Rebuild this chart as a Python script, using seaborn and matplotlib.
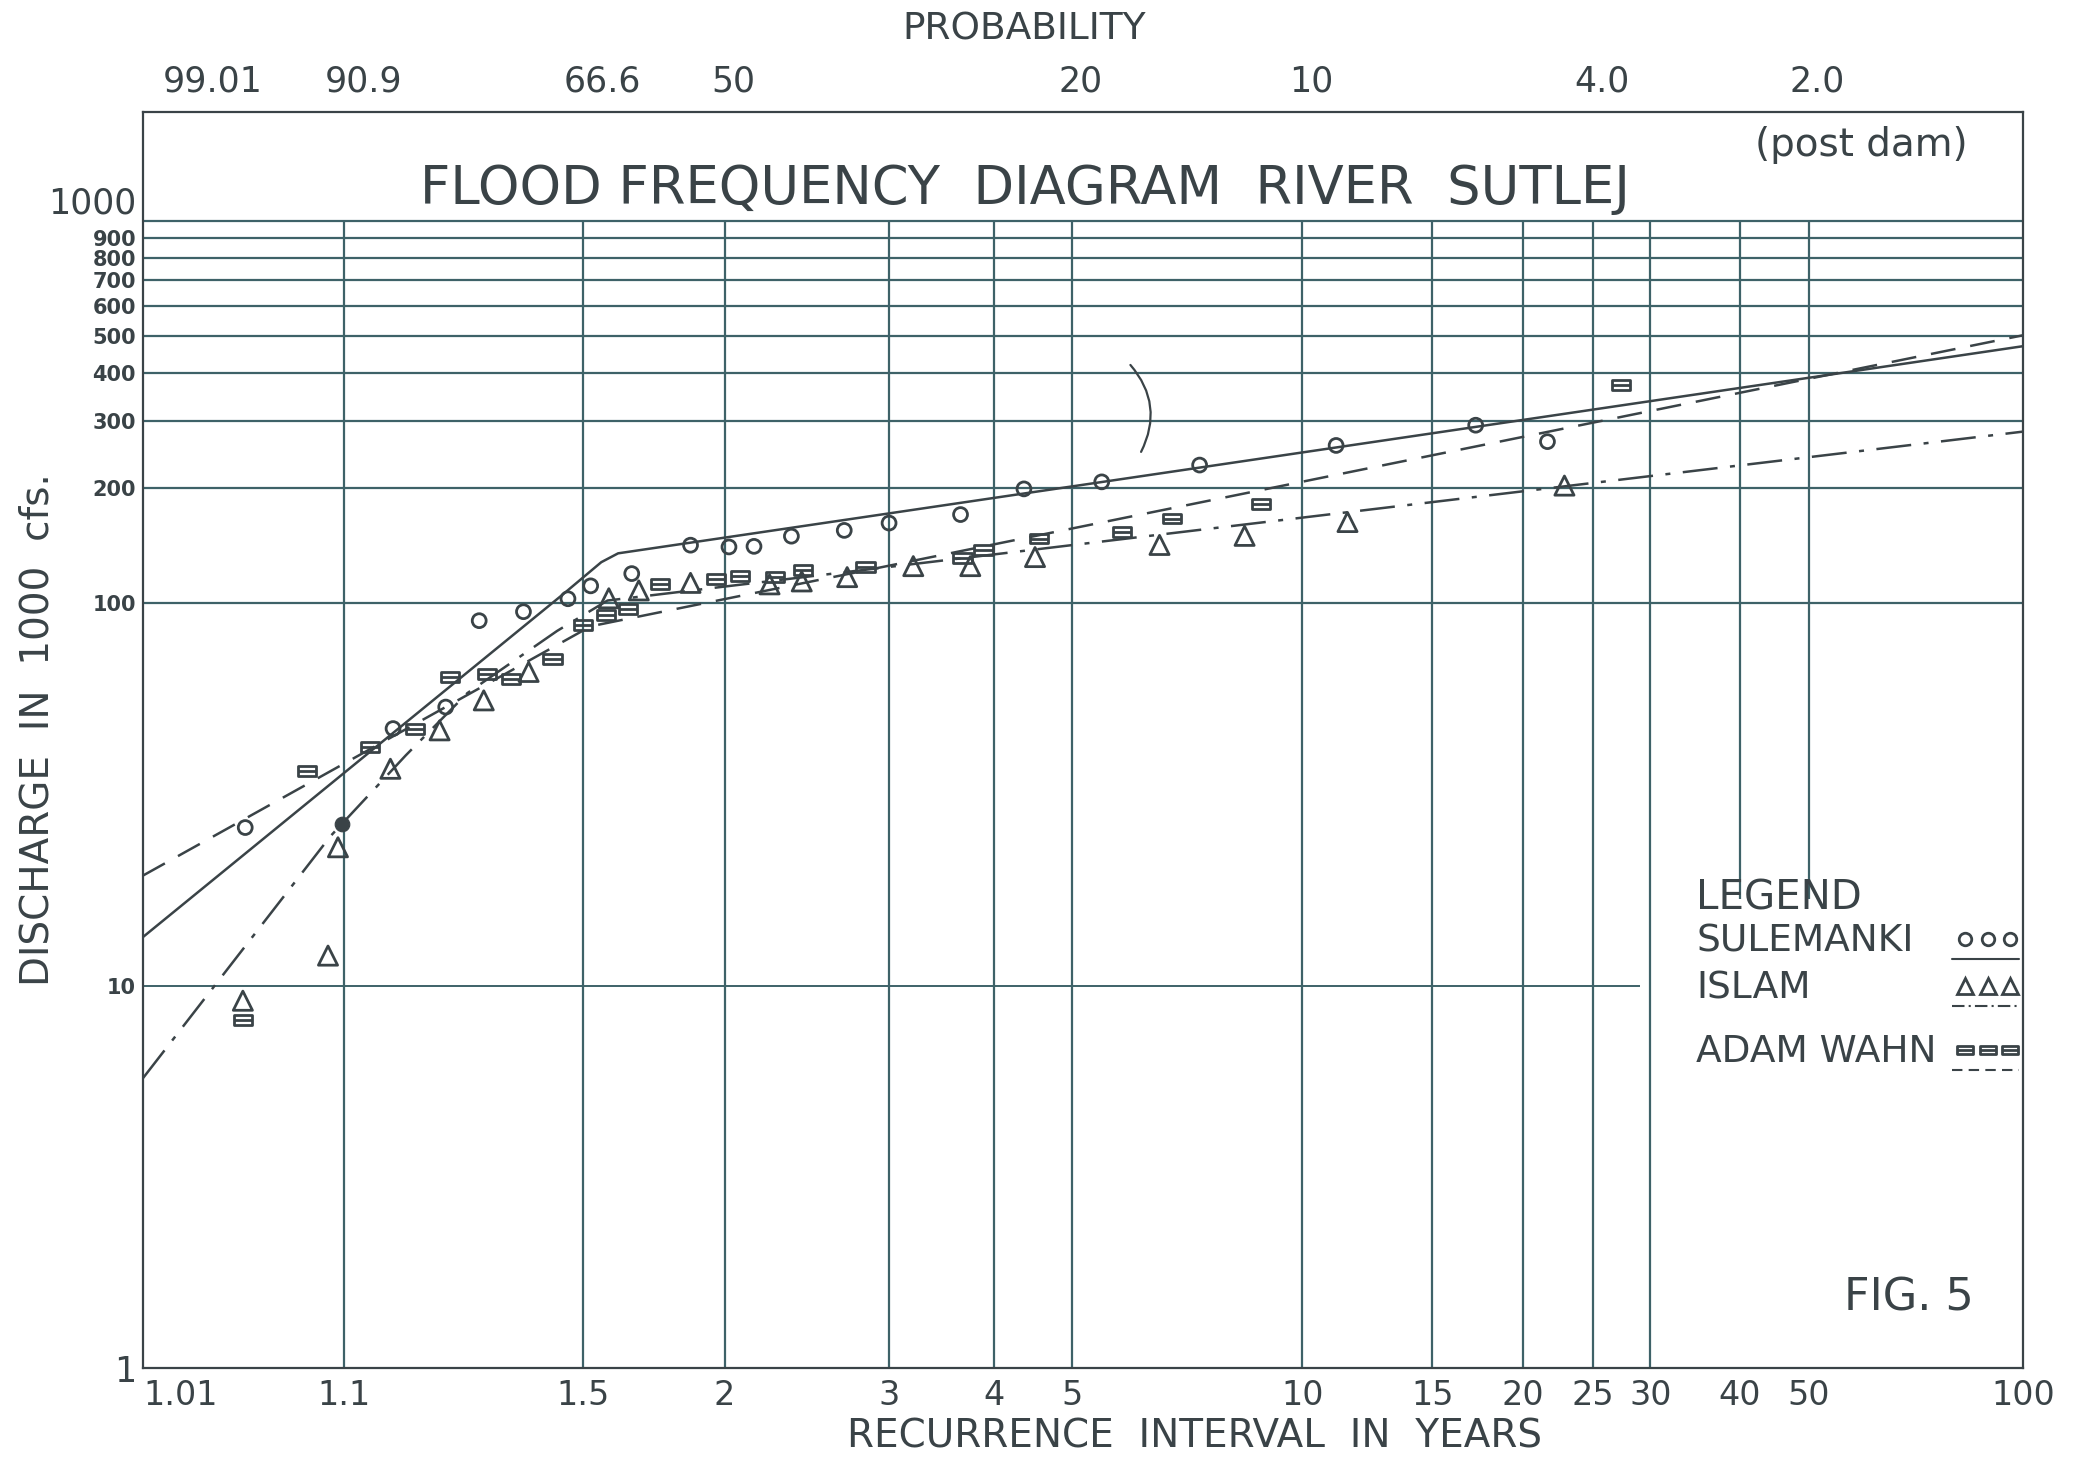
import numpy as np
import pandas as pd
import matplotlib
matplotlib.use('Agg')
import matplotlib.pyplot as plt
from matplotlib.path import Path
from matplotlib.ticker import NullLocator
import seaborn as sns

# readings: recurrence interval (years), discharge (1000 cfs)
sulemanki_T = [1.038, 1.149, 1.218, 1.272, 1.357, 1.46, 1.52, 1.643, 1.855, 2.02, 2.14,
               2.34, 2.67, 3.0, 3.64, 4.35, 5.45, 7.3, 11.1, 17.2, 21.6]
sulemanki_Q = [25.9, 47, 53.5, 90, 95, 102.7, 111, 119.5, 141.8, 140.3, 140.8,
               149.7, 155, 162, 170.5, 199, 207.6, 229.7, 258.5, 292, 264.5]
sulemanki_dot_T = [1.098]
sulemanki_dot_Q = [26.5]

islam_T = [1.037, 1.087, 1.095, 1.146, 1.209, 1.28, 1.368, 1.572, 1.666, 1.855, 2.22,
           2.40, 2.69, 3.2, 3.74, 4.49, 6.47, 8.37, 11.5, 22.8]
islam_Q = [9.13, 11.98, 23.0, 36.9, 46.5, 55.7, 66.1, 103, 108, 113, 112,
           114, 117, 125, 125, 132, 142, 150, 163, 203]

adam_T = [1.037, 1.072, 1.124, 1.176, 1.225, 1.286, 1.331, 1.422, 1.50, 1.565, 1.632,
          1.738, 1.96, 2.07, 2.25, 2.41, 2.82, 3.66, 3.88, 4.54, 5.79, 6.72, 8.8, 27.3]
adam_Q = [8.13, 36.5, 42, 47, 64.1, 65.4, 63.4, 71.6, 87.5, 92.9, 96.8,
          112.5, 116, 117.5, 117, 121.9, 124.4, 131.6, 137.5, 147.6, 153.6, 166.5, 181.6, 371.5]

# fitted lines as drawn
sulemanki_line_T = [1.01, 1.45, 1.55, 1.6, 100]
sulemanki_line_Q = [13.4, 106, 128, 135, 470]
islam_line_T = [1.01, 1.089, 1.164, 1.252, 1.433, 1.568, 100]
islam_line_Q = [5.73, 24.6, 40.0, 58.2, 84.6, 101.6, 281]
adam_line_T = [1.01, 1.52, 100]
adam_line_Q = [19.4, 87, 502]

x_ticks = [1.01, 1.1, 1.5, 2, 3, 4, 5, 10, 15, 20, 25, 30, 40, 50, 100]
x_labels = ['1.01', '1.1', '1.5', '2', '3', '4', '5', '10', '15', '20', '25', '30', '40', '50', '100']
prob_ticks = [1.01, 1.1, 1.5, 2, 5, 10, 25, 50]
prob_labels = ['99.01', '90.9', '66.6', '50', '20', '10', '4.0', '2.0']
y_ticks = [1, 10, 100, 200, 300, 400, 500, 600, 700, 800, 900, 1000]
y_labels = ['1', '10', '100', '200', '300', '400', '500', '600', '700', '800', '900', '1000']
grid_T = [1.1, 1.5, 2, 3, 4, 5, 10, 15, 20, 25, 30]
short_grid_T = [40, 50]
grid_Q = [100, 200, 300, 400, 500, 600, 700, 800, 900, 1000]
legend_names = ['SULEMANKI', 'ISLAM', 'ADAM WAHN']

sns.set_theme(style='white')
plt.rcParams['font.family'] = ['DejaVu Sans']

ink = '#3a4347'
grid_c = '#3e6268'


def gumbel(T):
    T = np.clip(np.asarray(T, dtype=float), 1.0005, 1e6)
    return -np.log(-np.log(1 - 1 / T))


def gumbel_inv(g):
    g = np.asarray(g, dtype=float)
    return 1 / (1 - np.exp(-np.exp(-g)))


box_minus = Path([(-1, -0.55), (1, -0.55), (1, 0.55), (-1, 0.55), (-1, -0.55), (-1, 0), (1, 0)],
                 [Path.MOVETO, Path.LINETO, Path.LINETO, Path.LINETO, Path.CLOSEPOLY,
                  Path.MOVETO, Path.LINETO])

fig = plt.figure(figsize=(20.73, 14.6), dpi=100)
ax = fig.add_axes([0.069, 0.063, 0.907, 0.860])
ax.set_xscale('function', functions=(gumbel, gumbel_inv))
ax.set_yscale('log')
ax.set_xlim(1.01, 100)
ax.set_ylim(1, 1920)

# grid as on the printed paper
ax.vlines(grid_T, 1, 1000, color=grid_c, lw=1.6, zorder=1)
ax.vlines(short_grid_T, 16.8, 1000, color=grid_c, lw=1.6, zorder=1)
ax.hlines(grid_Q, 1.01, 100, color=grid_c, lw=1.6, zorder=1)
ax.hlines([10], 1.01, 29, color=grid_c, lw=1.4, zorder=1)

# fitted lines
sns.lineplot(x=sulemanki_line_T, y=sulemanki_line_Q, sort=False, estimator=None,
             color=ink, lw=1.8, ax=ax)
sns.lineplot(x=adam_line_T, y=adam_line_Q, sort=False, estimator=None,
             color=ink, lw=1.8, linestyle=(0, (10, 6)), ax=ax)
sns.lineplot(x=islam_line_T, y=islam_line_Q, sort=False, estimator=None,
             color=ink, lw=1.8, linestyle=(0, (14, 5, 2, 5)), ax=ax)

# plotted points
pts = pd.DataFrame({'T': sulemanki_T, 'Q': sulemanki_Q})
sns.scatterplot(data=pts, x='T', y='Q', marker='o', s=100, facecolors='none',
                edgecolor=ink, linewidth=2, ax=ax, zorder=4)
sns.scatterplot(x=sulemanki_dot_T, y=sulemanki_dot_Q, marker='o', s=110, color=ink,
                edgecolor=ink, ax=ax, zorder=4)
pts = pd.DataFrame({'T': islam_T, 'Q': islam_Q})
sns.scatterplot(data=pts, x='T', y='Q', marker='^', s=190, facecolors='none',
                edgecolor=ink, linewidth=2, ax=ax, zorder=4)
pts = pd.DataFrame({'T': adam_T, 'Q': adam_Q})
sns.scatterplot(data=pts, x='T', y='Q', marker=box_minus, s=170, facecolors='none',
                edgecolor=ink, linewidth=2, ax=ax, zorder=4)

# small hand mark pointing at the Sulemanki line
ax.annotate('', xy=(6.1, 245), xytext=(5.9, 425),
            arrowprops=dict(arrowstyle='-', color=ink, lw=1.6,
                            connectionstyle='arc3,rad=-0.35'))

# axes and ticks
for sp in ax.spines.values():
    sp.set_color(ink)
    sp.set_linewidth(1.6)
ax.set_xticks(x_ticks)
ax.set_xticklabels(x_labels)
ax.xaxis.set_minor_locator(NullLocator())
ax.set_yticks(y_ticks)
ax.set_yticklabels(y_labels)
ax.yaxis.set_minor_locator(NullLocator())
ax.tick_params(axis='x', length=0, pad=8, labelsize=24, labelcolor=ink)
ax.tick_params(axis='y', length=0, pad=5, labelsize=15, labelcolor=ink)
for lab in ax.get_yticklabels():
    txt = lab.get_text()
    if txt == '1':
        lab.set_fontsize(25)
    elif txt == '1000':
        lab.set_fontsize(25)
        lab.set_verticalalignment('bottom')
    else:
        lab.set_fontweight('bold')
ax.get_xticklabels()[0].set_horizontalalignment('left')
ax.set_xlabel('')
ax.set_ylabel('')

# probability scale along the top
top_tf = ax.get_xaxis_transform()
for i, (t, lab) in enumerate(zip(prob_ticks, prob_labels)):
    ax.annotate(lab, xy=(t, 1.0), xycoords=top_tf, xytext=(14 if i < 3 else 6, 22),
                textcoords='offset points', ha='left' if i == 0 else 'center', va='center',
                fontsize=25, color=ink)

# texts
ax.text(0.469, 0.939, 'FLOOD FREQUENCY  DIAGRAM  RIVER  SUTLEJ', transform=ax.transAxes,
        ha='center', va='center', fontsize=38, color=ink)
ax.text(0.914, 0.974, '(post dam)', transform=ax.transAxes, ha='center', va='center',
        fontsize=28, color=ink)
ax.text(0.939, 0.056, 'FIG. 5', transform=ax.transAxes, ha='center', va='center',
        fontsize=32, color=ink)
fig.text(0.494, 0.980, 'PROBABILITY', ha='center', va='center', fontsize=27, color=ink)
fig.text(0.576, 0.016, 'RECURRENCE  INTERVAL  IN  YEARS', ha='center', va='center',
         fontsize=28, color=ink)
fig.text(0.018, 0.50, 'DISCHARGE  IN  1000  cfs.', ha='center', va='center',
         rotation=90, fontsize=28, color=ink)

# hand-lettered legend block
ax.text(0.826, 0.374, 'LEGEND', transform=ax.transAxes, ha='left', va='center',
        fontsize=29, color=ink)
legend_y = [0.340, 0.302, 0.2516]
legend_markers = [('o', 9, '-'), ('^', 11, (0, (6, 2, 1, 2))), (box_minus, 11, (0, (5, 3)))]
for name, y, (mk, ms, ls) in zip(legend_names, legend_y, legend_markers):
    ax.text(0.826, y, name, transform=ax.transAxes, ha='left', va='center',
            fontsize=27, color=ink)
    ax.plot([0.969, 0.981, 0.993], [y + 0.002] * 3, transform=ax.transAxes, marker=mk,
            markersize=ms, markerfacecolor='none', markeredgecolor=ink, markeredgewidth=2,
            linestyle='none', clip_on=False)
    ax.plot([0.962, 0.998], [y - 0.014] * 2, transform=ax.transAxes, color=ink, lw=1.5,
            linestyle=ls, clip_on=False)

fig.savefig('out.png', dpi=100, facecolor='white')
